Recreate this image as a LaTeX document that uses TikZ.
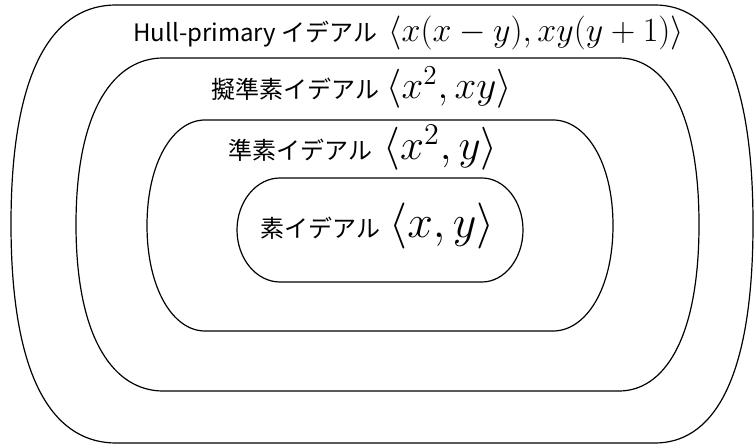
\RequirePackage{fix-cm}
\documentclass[tikz,border=0pt]{standalone}
\usepackage{fontspec}
\newfontfamily\jpfont{Noto Sans CJK JP}
\tikzset{
  ring/.style={draw=black, line width=0.6pt},
  jplabel/.style={anchor=base east, inner sep=0pt, font=\jpfont\fontsize{12pt}{14pt}\selectfont},
  mathlabel/.style={anchor=base west, inner sep=0pt},
}
% xl xr top bot rxl rxr k1 k2
\newcommand{\drawring}[8]{%
  \pgfmathsetmacro\Ml{#1+#5}\pgfmathsetmacro\Mr{#2-#6}%
  \pgfmathsetmacro\Mid{(#3+#4)/2}\pgfmathsetmacro\Hh{(#4-#3)/2}%
  \pgfmathsetmacro\Cl{#1+#5-#7*#5}\pgfmathsetmacro\Cr{#2-#6+#7*#6}%
  \pgfmathsetmacro\Ut{\Mid-#8*\Hh}\pgfmathsetmacro\Ub{\Mid+#8*\Hh}%
  \draw[ring] (\Ml,#3) -- (\Mr,#3) .. controls (\Cr,#3) and (#2,\Ut) .. (#2,\Mid)
    .. controls (#2,\Ub) and (\Cr,#4) .. (\Mr,#4) -- (\Ml,#4)
    .. controls (\Cl,#4) and (#1,\Ub) .. (#1,\Mid)
    .. controls (#1,\Ut) and (\Cl,#3) .. cycle;}
\begin{document}
\begin{tikzpicture}[x=0.5pt,y=-0.5pt]
\useasboundingbox (0,0) rectangle (754,448);
\drawring{11}{753}{5}{443}{105}{98}{0.55}{0.75}
\drawring{76}{699}{58}{391}{87}{80}{0.55}{0.7}
\drawring{147}{613}{120}{331}{58}{60}{0.55}{0.6}
\drawring{237}{523}{178}{282}{43}{41}{0.55}{0.55}

\node[jplabel] (t1) at (378,42) {Hull-primary イデアル};
\node[mathlabel, font=\fontsize{17pt}{20pt}\selectfont] (m1) at (388,42) {$\langle x(x-y), xy(y+1)\rangle$};

\node[jplabel] (t2) at (380,99) {擬準素イデアル};
\node[mathlabel, font=\fontsize{19.5pt}{22pt}\selectfont] (m2) at (386,99) {$\langle x^2, xy\rangle$};

\node[jplabel] (t3) at (373,160) {準素イデアル};
\node[mathlabel, font=\fontsize{21.5pt}{24pt}\selectfont] (m3) at (383,160) {$\langle x^2, y\rangle$};

\node[jplabel] (t4) at (381,238) {素イデアル};
\node[mathlabel, font=\fontsize{23pt}{26pt}\selectfont] (m4) at (389,238) {$\langle x, y\rangle$};
\end{tikzpicture}
\end{document}
